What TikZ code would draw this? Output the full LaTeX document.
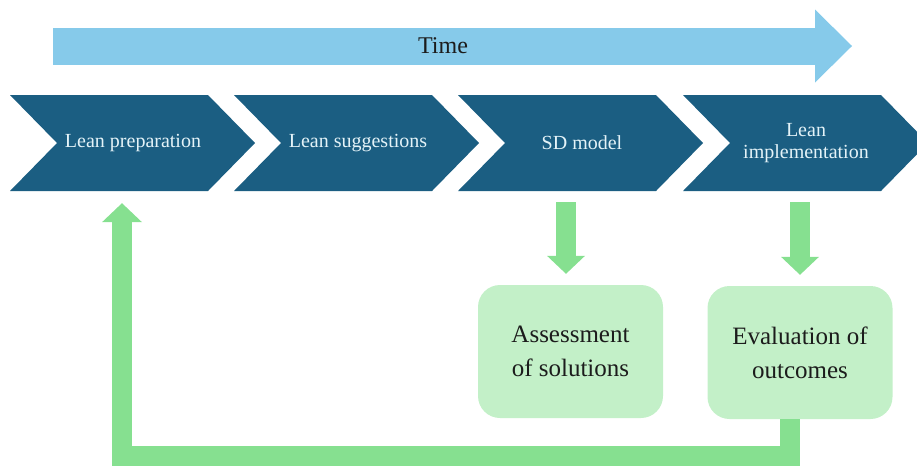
\documentclass[tikz,border=0pt]{standalone}
\usepackage{fontspec}
\setmainfont{Liberation Serif}
\usetikzlibrary{arrows.meta}

\definecolor{timeblue}{HTML}{86CAEA}
\definecolor{chevblue}{HTML}{1B5E82}
\definecolor{chevtext}{HTML}{E4F3F8}
\definecolor{arrowgreen}{HTML}{86E090}
\definecolor{boxgreen}{HTML}{C3F0C8}
\definecolor{darktext}{HTML}{1C1C1C}

\tikzset{
  chev/.style={fill=chevblue},
  steptext/.style={text=chevtext, font=\fontsize{20}{22}\selectfont, align=center,
    inner sep=0pt, minimum height=96pt},
  outcomebox/.style={fill=boxgreen, rounded corners=22pt, minimum width=185pt,
    minimum height=133pt, text=darktext, font=\fontsize{25}{34}\selectfont, align=center},
  timearrow/.style={draw=timeblue, line width=37pt,
    -{Triangle[width=73pt,length=37pt,line width=0pt]}},
  downarrow/.style={draw=arrowgreen, line width=20pt, shorten <=11pt, shorten >=11pt,
    -{Triangle[width=38pt,length=18pt,line width=0pt]}},
  backarrow/.style={draw=arrowgreen, line width=20pt, line join=miter, shorten >=12pt,
    -{Triangle[width=40pt,length=19pt,line width=0pt]}}
}

\begin{document}
\begin{tikzpicture}[x=1pt,y=-1pt]
\useasboundingbox (0,0) rectangle (917,467);
\clip (0,0) rectangle (917,467);

% time axis
\coordinate (tstart) at (53,46);
\coordinate (tend) at (852,46);
\draw[timearrow] (tstart) -- (tend);
\node[text=darktext, font=\fontsize{24}{28}\selectfont] (time) at (443,46) {Time};

% process chevrons
\foreach \x in {10,234,458,683}
  \fill[chev] (\x,95) -- (\x+198,95) -- (\x+245,143) -- (\x+198,191)
              -- (\x,191) -- (\x+47,143) -- cycle;

\node[steptext] (s1) at (133,143) {Lean preparation};
\node[steptext] (s2) at (358,143) {Lean suggestions};
\node[steptext] (s3) at (582,143) {SD model};
\node[steptext] (s4) at (806,143) {Lean\\implementation};

% results
\node[outcomebox] (b1) at (570.5,351.5) {Assessment\\of solutions};
\node[outcomebox] (b2) at (800,352.5) {Evaluation of\\outcomes};

% connectors
\draw[downarrow] ([xshift=-4.5pt]b1.north |- s3.south) -- ([xshift=-4.5pt]b1.north);
\draw[downarrow] (b2.north |- s4.south) -- (b2.north);
\draw[backarrow] ([xshift=-10pt]b2.south) -- ([xshift=-10pt]b2.south |- 0,456)
  -| ([xshift=-11pt]s1.south);
\end{tikzpicture}
\end{document}
